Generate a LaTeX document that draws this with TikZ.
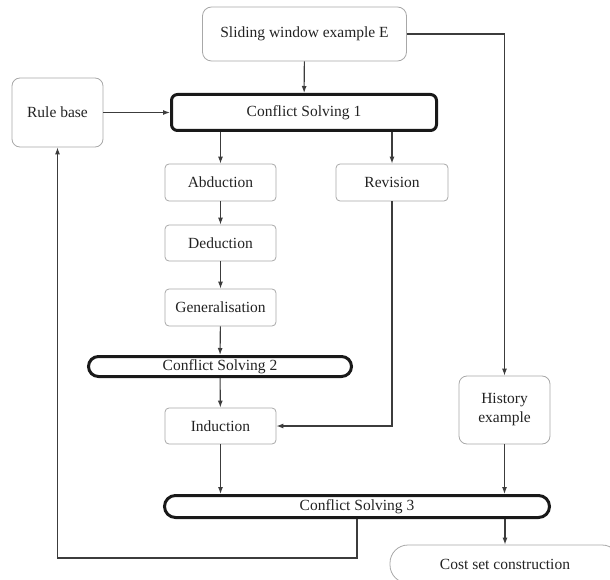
\documentclass[tikz,border=0pt]{standalone}
\usepackage{fontspec}
\setmainfont{Liberation Serif}
\usepackage{tikz}
\usetikzlibrary{arrows.meta}
\definecolor{boxgray}{HTML}{A8A8A8}
\definecolor{linegray}{HTML}{3C3C3C}
\definecolor{txt}{HTML}{222222}

\begin{document}
\begin{tikzpicture}[x=1pt,y=-1pt,
    every node/.style={font=\fontsize{15.5}{19}\selectfont, text=txt, inner sep=0pt, align=center},
    box/.style={draw=boxgray, line width=0.8pt, rounded corners=#1},
    box/.default=4pt,
    solve/.style={draw=black!90, line width=3pt, rounded corners=#1},
    solve/.default=6pt,
    arr/.style={draw=linegray, line width=1.1pt, -{Latex[length=7pt,width=5pt]}},
    ln/.style={draw=linegray, line width=1.1pt}]
    \useasboundingbox (0,0) rectangle (610,580);
    \clip (0,0) rectangle (610,580);

    \node[box=9pt, minimum width=204pt, minimum height=54pt] (sw) at (304.5,34) {Sliding window example E};
    \node[box=8pt, minimum width=91pt, minimum height=69pt] (rb) at (57.5,112.5) {Rule base};
    \node[solve, minimum width=265pt, minimum height=36pt] (cs1) at (304,112.5) {Conflict Solving 1};

    \node[box, minimum width=111pt, minimum height=37pt] (ab) at (220.5,182.5) {Abduction};
    \node[box, minimum width=112pt, minimum height=37pt] (rev) at (392,182.5) {Revision};
    \node[box, minimum width=111pt, minimum height=36pt] (ded) at (220.5,243) {Deduction};
    \node[box, minimum width=111pt, minimum height=37pt] (gen) at (220.5,307.5) {Generalisation};
    \node[solve=10pt, minimum width=263pt, minimum height=20pt] (cs2) at (220,366.5) {Conflict Solving 2};
    \node[box, minimum width=111pt, minimum height=36pt] (ind) at (220.5,426) {Induction};
    \node[box=8pt, minimum width=91pt, minimum height=68pt] (hist) at (504.5,410) {History\\example};
    \node[solve=11pt, minimum width=385pt, minimum height=22pt] (cs3) at (357,506.5) {Conflict Solving 3};
    \node[box=18pt, minimum width=230pt, minimum height=38pt] (cost) at (505,564) {Cost set construction};
    \coordinate (back) at (57.5,558);

    \draw[arr] (sw) -- (cs1);
    \draw[arr] (sw.east) -| (hist.north);
    \draw[arr] (rb) -- (cs1);
    \draw[arr] (cs1.south -| ab) -- (ab);
    \draw[arr] (cs1.south -| rev) -- (rev);
    \draw[arr] (ab) -- (ded);
    \draw[arr] (ded) -- (gen);
    \draw[arr] (gen) -- (cs2);
    \draw[arr] (cs2) -- (ind);
    \draw[arr] (rev.south) |- (ind.east);
    \draw[arr] (ind) -- (ind |- cs3.north);
    \draw[arr] (hist) -- (hist |- cs3.north);
    \draw[arr] (cs3.south -| cost) -- (cost);
    \draw[arr] (cs3.south) |- (back) -- (rb.south);
\end{tikzpicture}
\end{document}
